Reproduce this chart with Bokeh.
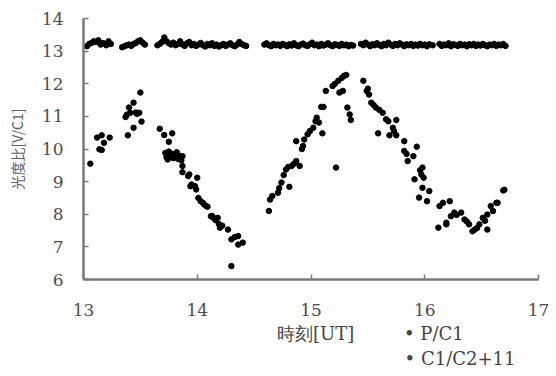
from bokeh.plotting import figure
from bokeh.models import Range1d, FixedTicker, LinearAxis
from bokeh.embed import file_html
from bokeh.resources import INLINE

# ---- P/C1 (lower series) ----
pc1_x = [13.06, 13.12, 13.16, 13.18, 13.14, 13.16, 13.23,
         13.37, 13.41, 13.40, 13.44, 13.50, 13.47, 13.49, 13.51, 13.44, 13.39, 13.38, 13.46,
         13.67, 13.71, 13.78, 13.75, 13.72, 13.73, 13.75, 13.76, 13.78, 13.79, 13.80, 13.82, 13.83, 13.84,
         13.86, 13.87, 13.74, 13.87, 13.87, 13.93, 14.00, 13.95, 13.99, 13.92, 13.94, 13.98, 14.01, 14.03,
         14.05, 14.06, 14.08, 14.09, 14.12, 14.13, 14.14, 14.16, 14.18, 14.19, 14.20, 14.22, 14.27, 14.30,
         14.33, 14.36, 14.40, 14.36, 14.30,
         14.63, 14.66, 14.64, 14.71, 14.74, 14.72, 14.81, 14.78, 14.76, 14.80, 14.83, 14.87, 14.85, 14.90,
         14.87, 14.93, 14.94, 14.92, 14.99, 14.97, 15.02, 15.10, 15.05, 15.04, 15.07, 15.09, 15.11, 15.13,
         15.19, 15.21, 15.24, 15.27, 15.29, 15.31, 15.25, 15.28, 15.32, 15.34, 15.35, 15.22,
         15.46, 15.49, 15.50, 15.51, 15.53, 15.55, 15.57, 15.60, 15.63, 15.66, 15.68, 15.75, 15.72, 15.59,
         15.69, 15.75, 15.73, 15.82, 15.93, 15.82, 15.84, 15.90, 15.85, 15.98, 15.96, 15.97, 15.91, 15.99,
         15.98, 16.04, 15.95, 16.02, 16.13, 16.16, 16.22, 16.26, 16.23, 16.28, 16.32, 16.35, 16.37, 16.39,
         16.42, 16.44, 16.46, 16.48, 16.51, 16.55, 16.53, 16.58, 16.60, 16.63, 16.64, 16.69, 16.70, 16.55,
         16.19, 16.12, 16.19]
pc1_y = [9.55, 10.35, 10.42, 10.19, 9.99, 9.97, 10.35,
         10.98, 11.11, 11.27, 11.42, 11.73, 11.08, 11.11, 10.84, 10.65, 10.42, 11.05, 11.12,
         10.62, 10.43, 10.48, 10.22, 9.88, 9.75, 9.92, 9.80, 9.85, 9.72, 9.78, 9.90, 9.70, 9.80,
         9.65, 9.78, 9.68, 9.48, 9.29, 9.22, 9.12, 8.91, 8.76, 9.17, 8.86, 8.86, 8.50, 8.40,
         8.35, 8.30, 8.25, 8.23, 7.94, 7.95, 7.90, 7.82, 7.89, 7.70, 7.59, 7.65, 7.53, 7.23,
         7.30, 7.33, 7.13, 7.07, 6.41,
         8.10, 8.56, 8.45, 8.66, 8.97, 8.80, 8.84, 9.37, 9.20, 9.45, 9.48, 9.63, 9.55, 9.48,
         10.24, 10.09, 10.29, 10.00, 10.55, 10.45, 10.65, 10.48, 10.96, 10.85, 10.81, 11.29, 11.29, 11.78,
         11.93, 12.00, 12.09, 12.18, 12.24, 12.27, 11.73, 11.78, 11.27, 11.06, 10.89, 9.43,
         12.09, 11.78, 11.85, 11.67, 11.42, 11.35, 11.27, 11.20, 11.11, 10.91, 10.85, 10.89, 10.65, 10.48,
         10.42, 10.42, 10.55, 10.24, 10.07, 9.94, 9.85, 9.78, 9.63, 9.43, 9.35, 9.22, 9.07, 9.12,
         8.81, 8.71, 8.51, 8.40, 8.25, 8.35, 8.40, 8.05, 7.94, 7.98, 8.05, 7.84, 7.78, 7.69,
         7.48, 7.53, 7.58, 7.69, 7.89, 7.99, 7.80, 8.25, 8.10, 8.35, 8.35, 8.73, 8.75, 7.53,
         7.69, 7.59, 7.74]

# ---- C1/C2+11 (upper series) ----
c12_x = [13.03, 13.05, 13.07, 13.09, 13.11, 13.13, 13.15, 13.17, 13.20, 13.22, 13.24,
         13.34, 13.36, 13.38, 13.40, 13.42, 13.44, 13.46, 13.48, 13.50, 13.52, 13.54,
         13.65, 13.67, 13.69, 13.71, 13.73, 13.75, 13.77, 13.79, 13.81, 13.83, 13.85, 13.87, 13.89,
         13.91, 13.93, 13.95, 13.97, 13.99, 14.01, 14.03, 14.05, 14.07, 14.09, 14.11, 14.13, 14.15,
         14.17, 14.19, 14.21, 14.23, 14.25, 14.27, 14.29, 14.31, 14.33, 14.35, 14.37, 14.39, 14.41, 14.43,
         14.59, 14.61, 14.63, 14.65, 14.67, 14.69, 14.71, 14.73, 14.75, 14.77, 14.79, 14.81, 14.83,
         14.85, 14.87, 14.89, 14.91, 14.93, 14.95, 14.97, 14.99, 15.01, 15.03, 15.05, 15.07, 15.09,
         15.11, 15.13, 15.15, 15.17, 15.19, 15.21, 15.23, 15.25, 15.27, 15.29, 15.31, 15.33, 15.35, 15.37,
         15.44, 15.46, 15.48, 15.50, 15.52, 15.54, 15.56, 15.58, 15.60, 15.62, 15.64, 15.66, 15.68,
         15.70, 15.72, 15.74, 15.76, 15.78, 15.80, 15.82, 15.84, 15.86, 15.88, 15.90, 15.92, 15.94,
         15.96, 15.98, 16.00, 16.02, 16.04, 16.07,
         16.13, 16.15, 16.17, 16.19, 16.21, 16.23, 16.25, 16.27, 16.29, 16.31, 16.33, 16.35, 16.37,
         16.39, 16.41, 16.43, 16.45, 16.47, 16.49, 16.51, 16.53, 16.55, 16.57, 16.59, 16.61, 16.63,
         16.65, 16.67, 16.69, 16.71]
c12_y = [13.15, 13.22, 13.25, 13.30, 13.28, 13.33, 13.20, 13.25, 13.18, 13.30, 13.22,
         13.12, 13.15, 13.18, 13.20, 13.16, 13.22, 13.25, 13.30, 13.33, 13.26, 13.20,
         13.18, 13.22, 13.28, 13.42, 13.30, 13.24, 13.20, 13.26, 13.18, 13.22, 13.30, 13.20, 13.16,
         13.24, 13.28, 13.18, 13.22, 13.16, 13.20, 13.25, 13.18, 13.14, 13.22, 13.18, 13.24, 13.16,
         13.20, 13.14, 13.18, 13.22, 13.16, 13.20, 13.24, 13.18, 13.15, 13.20, 13.28, 13.22, 13.18, 13.16,
         13.20, 13.24, 13.18, 13.15, 13.22, 13.18, 13.20, 13.16, 13.22, 13.19, 13.15, 13.21, 13.17,
         13.24, 13.18, 13.15, 13.20, 13.23, 13.18, 13.16, 13.21, 13.26, 13.18, 13.20, 13.15, 13.22,
         13.17, 13.20, 13.24, 13.18, 13.15, 13.21, 13.19, 13.16, 13.22, 13.18, 13.20, 13.15, 13.19, 13.17,
         13.22, 13.18, 13.26, 13.20, 13.15, 13.21, 13.18, 13.24, 13.19, 13.15, 13.22, 13.18, 13.26,
         13.20, 13.16, 13.22, 13.18, 13.24, 13.20, 13.15, 13.21, 13.18, 13.22, 13.16, 13.20, 13.17,
         13.22, 13.18, 13.20, 13.15, 13.21, 13.18,
         13.22, 13.16, 13.20, 13.18, 13.24, 13.15, 13.21, 13.19, 13.16, 13.22, 13.18, 13.20, 13.15,
         13.21, 13.18, 13.22, 13.16, 13.20, 13.17, 13.22, 13.18, 13.15, 13.20, 13.18, 13.22, 13.16,
         13.20, 13.18, 13.22, 13.16]

x_ticks = [13, 14, 15, 16, 17]
y_ticks = [6, 7, 8, 9, 10, 11, 12, 13, 14]
x_title = "時刻[UT]"
y_title = "光度比[V/C1]"
legend_labels = ["• P/C1", "• C1/C2+11"]

SERIF = "'DejaVu Serif', serif"

p = figure(width=552, height=374, output_backend="svg", toolbar_location=None,
           x_range=Range1d(13, 17), y_range=Range1d(6, 14),
           min_border_left=83, min_border_right=14, min_border_top=18, min_border_bottom=95)
p.outline_line_color = None
p.xgrid.grid_line_color = None
p.ygrid.grid_line_color = None
p.background_fill_color = "white"
p.border_fill_color = "white"

p.scatter(pc1_x, pc1_y, size=5.5, color="black")
p.scatter(c12_x, c12_y, size=5.5, color="black")

axis_col = "#7a7a7a"
for ax in (p.xaxis[0], p.yaxis[0]):
    ax.axis_line_color = axis_col
    ax.axis_line_width = 2.5
    ax.major_tick_line_color = axis_col
    ax.major_tick_line_width = 1.5
    ax.major_tick_in = 5
    ax.major_tick_out = 0
    ax.minor_tick_line_color = None
    ax.major_label_text_font = SERIF
    ax.major_label_text_font_size = "17px"
    ax.major_label_text_color = "#4d4d4d"

p.xaxis.ticker = FixedTicker(ticks=x_ticks)
p.yaxis.ticker = FixedTicker(ticks=y_ticks)
p.xaxis.major_label_standoff = 24
p.yaxis.major_label_standoff = 20
p.yaxis.axis_label = y_title
p.yaxis.axis_label_text_font = "'Noto Sans CJK JP', sans-serif"
p.yaxis.axis_label_text_font_style = "normal"
p.yaxis.axis_label_text_color = "#606060"
p.yaxis.axis_label_text_font_size = "14px"
p.yaxis.axis_label_standoff = 12


def text_row(labels_at, standoff):
    ax = LinearAxis(ticker=FixedTicker(ticks=list(labels_at.keys())),
                    major_label_overrides=labels_at)
    ax.axis_line_color = None
    ax.major_tick_line_color = None
    ax.minor_tick_line_color = None
    ax.major_tick_in = 0
    ax.major_tick_out = 0
    ax.major_label_standoff = standoff
    ax.major_label_text_font = SERIF
    ax.major_label_text_font_size = "18px"
    ax.major_label_text_color = "#444444"
    p.add_layout(ax, "below")


# row 1: x-axis title and first legend entry; row 2: second legend entry
text_row({15.04: x_title, 16.08: legend_labels[0]}, 4)
text_row({16.31: legend_labels[1]}, 1)

open("out.html", "w").write(file_html(p, INLINE))
